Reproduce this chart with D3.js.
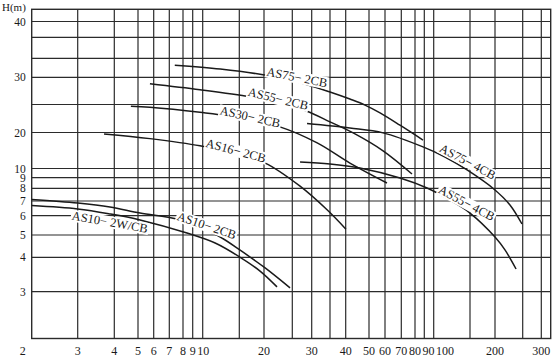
<!DOCTYPE html>
<html><head><meta charset="utf-8">
<script src="https://cdn.jsdelivr.net/npm/d3@7"></script>
<style>body{margin:0;background:#fff}svg{display:block}</style>
</head><body><svg id="c" width="554" height="357"></svg>
<script>
// ---------- data ----------
const xTickValues = [2,3,4,5,6,7,8,9,10,20,30,40,50,60,70,80,90,100,200,300];
const xGridValues = [3,4,5,6,7,8,9,10,15,20,25,30,35,40,50,60,70,80,90,100,150,200,250,300];
const yTickValues = [3,4,5,6,7,8,9,10,20,30,40];
const yGridValues = [3,4,5,6,7,8,9,10,20,25,30,33,37,40];
const xDomain = [2, 325];
const yDomain = [2, 42];
const yTitle = "H(m)";

const as75_2cb_q = [7.4, 12.4, 19.8, 27, 35, 41.8, 48.3, 56.9, 69.2, 88.6];
const as75_2cb_h = [31.9, 31.3, 30.4, 29.0, 27.3, 26.0, 24.9, 23.5, 21.3, 17.9];
const as55_2cb_q = [5.76, 9.73, 17.2, 22.8, 28.8, 35, 44, 58.8, 77.8];
const as55_2cb_h = [28.8, 27.7, 26.4, 25.3, 23.8, 21.9, 19.6, 14.9, 9.4];
const as30_2cb_q = [4.7, 5.76, 9.73, 13.7, 22.8, 31.5, 41.8, 61.2];
const as30_2cb_h = [24.7, 24.5, 23.6, 22.9, 21.0, 17.1, 11.5, 8.5];
const as16_2cb_q = [3.72, 5.76, 9.73, 14.4, 20.2, 27, 34.2, 40.1];
const as16_2cb_h = [19.6, 18.3, 16.3, 14.0, 11.5, 8.2, 6.4, 5.3];
const as75_4cb_q = [28.8, 41.8, 58.8, 88.6, 115.6, 146, 200, 227, 248.7];
const as75_4cb_h = [21.6, 20.8, 19.9, 16.0, 13.2, 9.84, 7.87, 6.73, 5.57];
const as55_4cb_q = [27, 35, 46.1, 69.2, 92.9, 122.5, 150, 200, 218, 238];
const as55_4cb_h = [11.8, 11.25, 10.14, 8.97, 8.03, 7.07, 6.18, 4.91, 4.33, 3.66];
const as10_2cb_q = [2, 3, 3.88, 5.13, 7.56, 9.73, 12.4, 15.1, 20.2, 24.6];
const as10_2cb_h = [7.12, 6.86, 6.59, 6.18, 5.83, 5.41, 4.91, 4.33, 3.69, 3.11];
const as10_2w_q = [2, 3, 3.88, 5.13, 8.41, 11.7, 15.1, 19.2, 22.3];
const as10_2w_h = [6.69, 6.46, 6.12, 5.78, 5.10, 4.64, 4.01, 3.60, 3.14];

const seriesLabels = ["AS75\u2212 2CB","AS55\u2212 2CB","AS30\u2212 2CB","AS16\u2212 2CB",
                      "AS75\u2212 4CB","AS55\u2212 4CB","AS10\u2212 2CB","AS10\u2212 2W/CB"];
const seriesQ = [as75_2cb_q, as55_2cb_q, as30_2cb_q, as16_2cb_q, as75_4cb_q, as55_4cb_q, as10_2cb_q, as10_2w_q];
const seriesH = [as75_2cb_h, as55_2cb_h, as30_2cb_h, as16_2cb_h, as75_4cb_h, as55_4cb_h, as10_2cb_h, as10_2w_h];
// where along each curve (flow value) its name is written
const labelAtQ = [26.2, 22.5, 17.2, 14.55, 147, 145.5, 10.55, 3.88];

// ---------- label styling (offset from curve, rotation) ----------
const labelStyle = [
  {dy:-5, rot:11}, {dy:-4, rot:13.6}, {dy:-4, rot:12.6}, {dy:-4, rot:14.8},
  {dy:-9, rot:28}, {dy:-8, rot:28}, {dy:-5, rot:18.5}, {dy:8, rot:10}
];

// ---------- scales (chart paper is non-uniform: piecewise calibration) ----------
const xCalV = [2,3,4,5,6,7,8,9,10,15,20,25,30,35,40,50,60,70,80,90,100,150,200,250,300,325];
const xCalP = [31.7,77.7,114.3,138,153.7,169.3,183,192.7,202.7,239.3,264,292.3,311.7,330,345.7,369,385,401.3,415,424.3,433.7,470,495,522.7,541.3,550.7];
const yCalV = [2,3,4,5,6,7,8,9,10,20,25,30,33,37,40,42];
const yCalP = [338.5,291.7,257.3,235,215.7,201,188.3,177.7,168.5,132.5,104.5,77.3,58.3,37.3,21.5,9.3];
const x = d3.scaleLinear().domain(xCalV).range(xCalP);
const y = d3.scaleLinear().domain(yCalV).range(yCalP);

const svg = d3.select("#c");
const FONT = "'Liberation Serif','DejaVu Serif',serif";
const INK = "#1a1a1a";

// grid
const g = svg.append("g").attr("stroke", "#2b2b2b").attr("stroke-width", 1.2);
g.selectAll("line.v").data(xGridValues).join("line")
  .attr("x1", d => x(d)).attr("x2", d => x(d))
  .attr("y1", y(yDomain[1])).attr("y2", y(yDomain[0]));
g.selectAll("line.h").data(yGridValues).join("line")
  .attr("x1", x(xDomain[0])).attr("x2", x(xDomain[1]))
  .attr("y1", d => y(d)).attr("y2", d => y(d));
// frame
g.append("rect")
  .attr("x", x(xDomain[0])).attr("y", y(yDomain[1]))
  .attr("width", x(xDomain[1]) - x(xDomain[0]))
  .attr("height", y(yDomain[0]) - y(yDomain[1]))
  .attr("fill", "none").attr("stroke-width", 1.4);

// curves
const line = d3.line().x(d => x(d[0])).y(d => y(d[1])).curve(d3.curveCatmullRom.alpha(0.5));
seriesQ.forEach((qs, i) => {
  const pts = qs.map((q, j) => [q, seriesH[i][j]]);
  svg.append("path").datum(pts).attr("d", line)
    .attr("fill", "none").attr("stroke", INK).attr("stroke-width", 1.5);
});

// curve labels
function curveYpx(i, q) {
  const qs = seriesQ[i], hs = seriesH[i];
  const px = qs.map(x), py = hs.map(y);
  const X = x(q);
  for (let k = 0; k < px.length - 1; k++) {
    if (X >= px[k] && X <= px[k+1]) {
      const t = (X - px[k]) / (px[k+1] - px[k]);
      return py[k] + t * (py[k+1] - py[k]);
    }
  }
  return py[py.length - 1];
}
seriesLabels.forEach((name, i) => {
  const cx = x(labelAtQ[i]);
  const cy = curveYpx(i, labelAtQ[i]) + labelStyle[i].dy;
  const lg = svg.append("g").attr("transform", `translate(${cx},${cy}) rotate(${labelStyle[i].rot})`);
  const bg = lg.append("rect").attr("fill", "#fff");
  const t = lg.append("text").text(name)
    .attr("text-anchor", "middle").attr("dy", "0.35em")
    .attr("font-family", FONT).attr("font-size", 12.5).attr("fill", INK);
  const b = t.node().getBBox();
  bg.attr("x", b.x - 1).attr("y", b.y + 1).attr("width", b.width + 2).attr("height", b.height - 2);
});

// x tick labels (packed so crowded labels don't collide)
let prevRight = -Infinity;
xTickValues.forEach((v, i) => {
  const t = svg.append("text").text(String(v))
    .attr("font-family", FONT).attr("font-size", 12).attr("fill", INK)
    .attr("y", 354.5);
  const w = t.node().getComputedTextLength();
  let left;
  if (v === xDomain[0]) left = x(v) - 6 - w;       // edge label sits outside the frame
  else left = Math.max(x(v) - w / 2, prevRight + 1.5);
  t.attr("x", left);
  prevRight = left + w;
});

// y tick labels
svg.selectAll("text.yt").data(yTickValues).join("text")
  .attr("x", x(xDomain[0]) - 6).attr("y", d => y(d)).attr("dy", "0.35em")
  .attr("text-anchor", "end")
  .attr("font-family", FONT).attr("font-size", 11.5).attr("fill", INK)
  .text(d => d);

// axis title
svg.append("text").text(yTitle)
  .attr("x", 2).attr("y", 10.5)
  .attr("font-family", FONT).attr("font-size", 11).attr("fill", INK);
</script></body></html>
